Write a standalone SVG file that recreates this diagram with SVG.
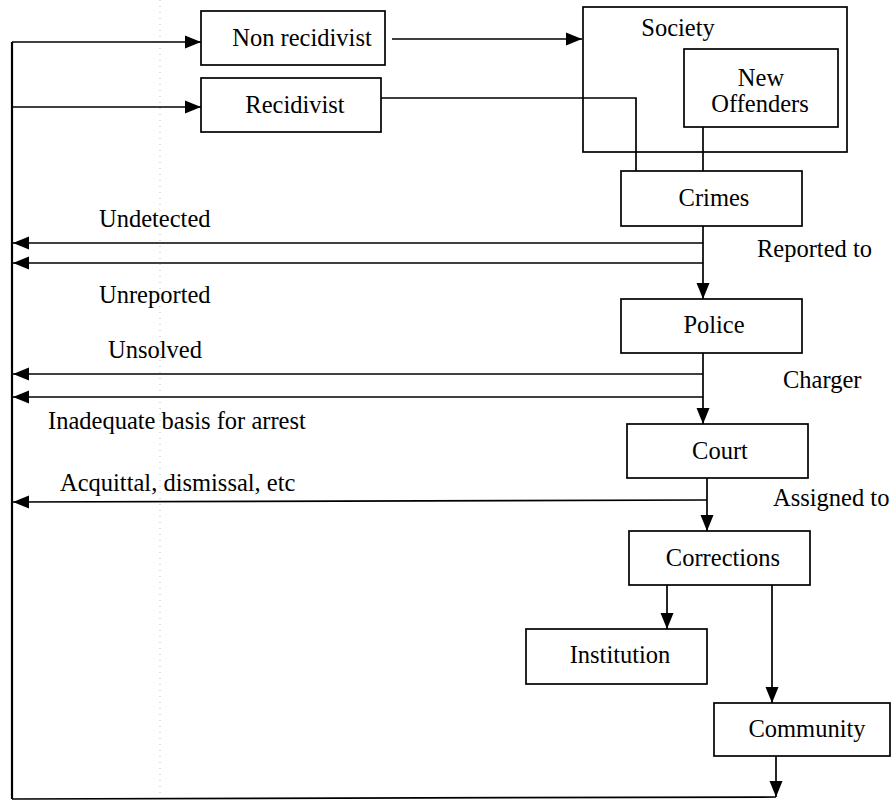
<svg xmlns="http://www.w3.org/2000/svg" width="892" height="804" viewBox="0 0 892 804">
<style>
  .box { fill: #fff; stroke: #000; stroke-width: 1.7; }
  .ln { fill: none; stroke: #000; stroke-width: 1.7; }
  .arr { fill: none; stroke: #000; stroke-width: 1.7; marker-end: url(#ah); }
  .t { font-family: 'Liberation Serif', 'DejaVu Serif', 'Times New Roman', serif; font-size: 24.5px; fill: #000; }
  .m { text-anchor: middle; }
</style>
<defs>
  <marker id="ah" markerUnits="userSpaceOnUse" markerWidth="17" markerHeight="15" viewBox="0 0 17 15" refX="16" refY="7.5" orient="auto">
    <path d="M0,1 L16,7.5 L0,14 Z" fill="#000"/>
  </marker>
</defs>
<rect width="892" height="804" fill="#fff"/>
<line x1="160" y1="0" x2="160" y2="804" stroke="#bbb" stroke-width="1" stroke-dasharray="1,5"/>

<g id="connectors">
  <line class="ln" x1="12" y1="42" x2="12" y2="799" style="stroke-width:2.2"/>
  <line class="arr" x1="12" y1="42" x2="201" y2="42"/>
  <line class="arr" x1="12" y1="107" x2="201" y2="107"/>
  <line class="arr" x1="392" y1="39" x2="582" y2="39"/>
  <polyline class="ln" points="381,98 636,98 636,171"/>
  <line class="ln" x1="703" y1="127" x2="703" y2="171"/>
  <line class="arr" x1="703" y1="226" x2="703" y2="299"/>
  <line class="arr" x1="703" y1="243" x2="13" y2="243"/>
  <line class="arr" x1="703" y1="263" x2="13" y2="263"/>
  <line class="arr" x1="703" y1="353" x2="703" y2="424"/>
  <line class="arr" x1="703" y1="374" x2="13" y2="374"/>
  <line class="arr" x1="703" y1="397" x2="13" y2="397"/>
  <line class="arr" x1="707" y1="478" x2="707" y2="531"/>
  <line class="arr" x1="707" y1="500" x2="13" y2="502"/>
  <line class="arr" x1="667" y1="585" x2="667" y2="629"/>
  <line class="arr" x1="772" y1="585" x2="772" y2="703"/>
  <line class="arr" x1="776" y1="756" x2="776" y2="797"/>
  <line class="ln" x1="12" y1="799" x2="776" y2="797"/>
</g>

<g id="non-recidivist">
  <rect class="box" x="201" y="11" width="184" height="54"/>
  <text class="t m" x="302" y="46">Non recidivist</text>
</g>
<g id="recidivist">
  <rect class="box" x="201" y="78" width="180" height="54"/>
  <text class="t m" x="295" y="113">Recidivist</text>
</g>
<g id="society">
  <rect class="box" x="583" y="7" width="264" height="145" style="fill:none"/>
  <text class="t m" x="678" y="36">Society</text>
</g>
<g id="new-offenders">
  <rect class="box" x="684" y="49" width="154" height="78"/>
  <text class="t m" x="761" y="86">New</text>
  <text class="t m" x="760" y="112">Offenders</text>
</g>
<g id="crimes">
  <rect class="box" x="621" y="171" width="181" height="55"/>
  <text class="t m" x="714" y="206">Crimes</text>
</g>
<g id="police">
  <rect class="box" x="621" y="299" width="181" height="54"/>
  <text class="t m" x="714" y="333">Police</text>
</g>
<g id="court">
  <rect class="box" x="627" y="424" width="181" height="54"/>
  <text class="t m" x="720" y="459">Court</text>
</g>
<g id="corrections">
  <rect class="box" x="629" y="531" width="181" height="54"/>
  <text class="t m" x="723" y="566">Corrections</text>
</g>
<g id="institution">
  <rect class="box" x="526" y="629" width="181" height="55"/>
  <text class="t m" x="620" y="663">Institution</text>
</g>
<g id="community">
  <rect class="box" x="714" y="703" width="176" height="53"/>
  <text class="t m" x="807" y="737">Community</text>
</g>

<g id="labels">
  <text class="t" x="99" y="227">Undetected</text>
  <text class="t" x="99" y="303">Unreported</text>
  <text class="t" x="108" y="358">Unsolved</text>
  <text class="t" x="48" y="429">Inadequate basis for arrest</text>
  <text class="t" x="60" y="491">Acquittal, dismissal, etc</text>
  <text class="t" x="757" y="257">Reported to</text>
  <text class="t" x="783" y="388">Charger</text>
  <text class="t" x="773" y="506">Assigned to</text>
</g>
</svg>
